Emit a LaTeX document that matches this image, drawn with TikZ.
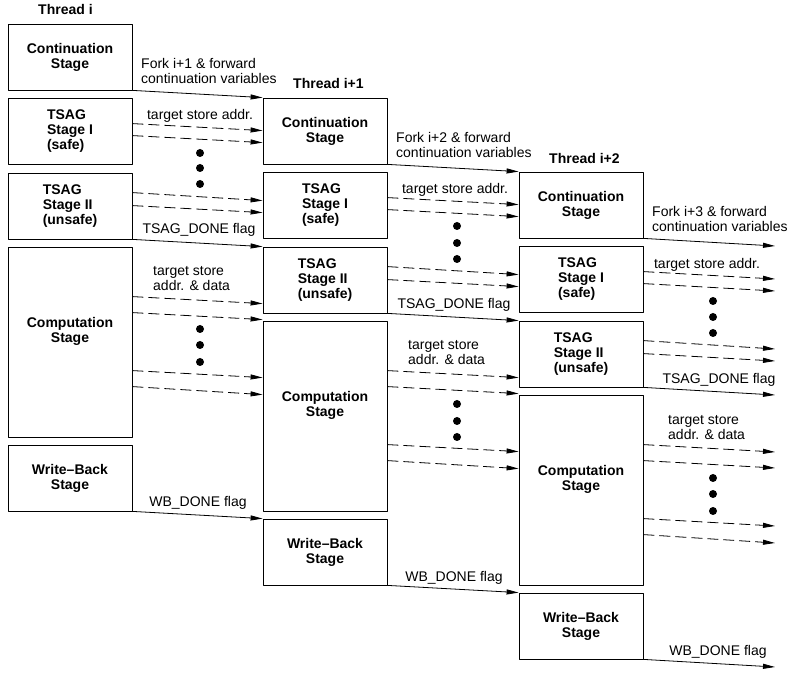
\documentclass[tikz,border=0pt]{standalone}
\usepackage{fontspec}
\setmainfont{Liberation Sans}
\usetikzlibrary{arrows.meta}

\tikzset{
  stage/.style={draw,line width=0.8bp,minimum width=124bp,minimum height=66bp,inner sep=0pt,
    align=center,font=\bfseries\fontsize{14bp}{15bp}\selectfont},
  boxtext/.style={inner sep=0pt,align=center,font=\bfseries\fontsize{14bp}{15bp}\selectfont},
  thread/.style={anchor=west,inner sep=0pt,font=\bfseries\fontsize{14bp}{15bp}\selectfont},
  msg/.style={inner sep=0pt,align=left,font=\fontsize{14bp}{15bp}\selectfont},
  flag/.style={black,->,line width=0.8bp},
  addr/.style={black,->,line width=0.8bp,dash pattern=on 11bp off 5bp},
  dot/.style={circle,fill=black,inner sep=0pt,minimum size=8bp},
}

\begin{document}
\begin{tikzpicture}[>={Triangle[length=12bp,width=5bp]},line join=bevel,]
\useasboundingbox (0bp,0bp) rectangle (791bp,673bp);
%% thread i
\node (thr_0) at (38bp,663bp) [thread] {Thread i};
\node (cont_0) at (70bp,616bp) [stage] {Continuation\\Stage};
\node (tsag1_0) at (70bp,542bp) [stage,align=left] {TSAG\\Stage I\\(safe)};
\node (tsag2_0) at (70bp,467bp) [stage,align=left] {TSAG\\Stage II\\(unsafe)};
\node (comp_0) at (70bp,331bp) [stage,minimum height=190bp,label={[boxtext,name=comp_0_t,yshift=11bp]center:{Computation\\Stage}}] {};
\node (wb_0) at (70bp,195bp) [stage] {Write--Back\\Stage};
%% thread i+1
\node (thr_1) at (293bp,589bp) [thread] {Thread i+1};
\node (cont_1) at (325bp,542bp) [stage] {Continuation\\Stage};
\node (tsag1_1) at (325bp,468bp) [stage,align=left] {TSAG\\Stage I\\(safe)};
\node (tsag2_1) at (325bp,393bp) [stage,align=left] {TSAG\\Stage II\\(unsafe)};
\node (comp_1) at (325bp,257bp) [stage,minimum height=190bp,label={[boxtext,name=comp_1_t,yshift=11bp]center:{Computation\\Stage}}] {};
\node (wb_1) at (325bp,121bp) [stage] {Write--Back\\Stage};
%% thread i+2
\node (thr_2) at (549bp,514bp) [thread] {Thread i+2};
\node (cont_2) at (581bp,468bp) [stage] {Continuation\\Stage};
\node (tsag1_2) at (581bp,394bp) [stage,align=left] {TSAG\\Stage I\\(safe)};
\node (tsag2_2) at (581bp,319bp) [stage,align=left] {TSAG\\Stage II\\(unsafe)};
\node (comp_2) at (581bp,183bp) [stage,minimum height=190bp,label={[boxtext,name=comp_2_t,yshift=11bp]center:{Computation\\Stage}}] {};
\node (wb_2) at (581bp,47bp) [stage] {Write--Back\\Stage};
%% where thread i+3 would start
\coordinate (cont_3) at (775bp,427bp);
\coordinate (tsag1_3) at (775bp,353bp);
\coordinate (tsag2_3) at (775bp,278bp);
\coordinate (comp_3) at (775bp,204bp);
\coordinate (wb_3) at (775bp,6bp);
%% labels on the arrows
\node (fork_0) at (141bp,602bp) [msg,anchor=west] {Fork i+1 \& forward\\continuation variables};
\node (fork_1) at (396bp,528bp) [msg,anchor=west] {Fork i+2 \& forward\\continuation variables};
\node (fork_2) at (652bp,454bp) [msg,anchor=west] {Fork i+3 \& forward\\continuation variables};
\node (tsa_0) at (200bp,557bp) [msg] {target store addr.};
\node (tsa_1) at (455bp,483bp) [msg] {target store addr.};
\node (tsa_2) at (707bp,408bp) [msg] {target store addr.};
\node (tdone_0) at (199bp,443bp) [msg] {TSAG\_DONE flag};
\node (tdone_1) at (454bp,368bp) [msg] {TSAG\_DONE flag};
\node (tdone_2) at (719bp,293bp) [msg] {TSAG\_DONE flag};
\node (tsd_0) at (153bp,394bp) [msg,anchor=west] {target store\\addr. \& data};
\node (tsd_1) at (408bp,320bp) [msg,anchor=west] {target store\\addr. \& data};
\node (tsd_2) at (668bp,245bp) [msg,anchor=west] {target store\\addr. \& data};
\node (wdone_0) at (198bp,170bp) [msg] {WB\_DONE flag};
\node (wdone_1) at (454bp,95bp) [msg] {WB\_DONE flag};
\node (wdone_2) at (718bp,21bp) [msg] {WB\_DONE flag};
%% dots
\node (dt_0a) at (200bp,520bp) [dot] {};
\node (dt_0b) at (200bp,505bp) [dot] {};
\node (dt_0c) at (200bp,489bp) [dot] {};
\node (dc_0a) at (200bp,344bp) [dot] {};
\node (dc_0b) at (200bp,328bp) [dot] {};
\node (dc_0c) at (200bp,311bp) [dot] {};
\node (dt_1a) at (457bp,447bp) [dot] {};
\node (dt_1b) at (457bp,430bp) [dot] {};
\node (dt_1c) at (457bp,414bp) [dot] {};
\node (dc_1a) at (457bp,269bp) [dot] {};
\node (dc_1b) at (457bp,252bp) [dot] {};
\node (dc_1c) at (457bp,236bp) [dot] {};
\node (dt_2a) at (713bp,372bp) [dot] {};
\node (dt_2b) at (713bp,356bp) [dot] {};
\node (dt_2c) at (713bp,340bp) [dot] {};
\node (dc_2a) at (713bp,195bp) [dot] {};
\node (dc_2b) at (713bp,179bp) [dot] {};
\node (dc_2c) at (713bp,162bp) [dot] {};
%% flags
\draw [flag] (cont_0.south east) -- (cont_1.north west);
\draw [flag] (tsag2_0.south east) -- (tsag2_1.north west);
\draw [flag] (wb_0.south east) -- (wb_1.north west);
\draw [flag] (cont_1.south east) -- (cont_2.north west);
\draw [flag] (tsag2_1.south east) -- (tsag2_2.north west);
\draw [flag] (wb_1.south east) -- (wb_2.north west);
\draw [flag] (cont_2.south east) -- (cont_3);
\draw [flag] (tsag2_2.south east) -- (tsag2_3);
\draw [flag] (wb_2.south east) -- (wb_3);
%% addresses and data
\draw [addr] ([yshift=-26bp]tsag1_0.north east) -- ([yshift=-33bp]cont_1.north west);
\draw [addr] ([yshift=-38bp]tsag1_0.north east) -- ([yshift=-45bp]cont_1.north west);
\draw [addr] ([yshift=-20bp]tsag2_0.north east) -- ([yshift=-29bp]tsag1_1.north west);
\draw [addr] ([yshift=-33bp]tsag2_0.north east) -- ([yshift=-41bp]tsag1_1.north west);
\draw [addr] ([yshift=-50bp]comp_0.north east) -- ([yshift=17bp]comp_1.north west);
\draw [addr] ([yshift=-66bp]comp_0.north east) -- ([yshift=1bp]comp_1.north west);
\draw [addr] ([yshift=-124bp]comp_0.north east) -- ([yshift=-57bp]comp_1.north west);
\draw [addr] ([yshift=-140bp]comp_0.north east) -- ([yshift=-74bp]comp_1.north west);
%
\draw [addr] ([yshift=-26bp]tsag1_1.north east) -- ([yshift=-33bp]cont_2.north west);
\draw [addr] ([yshift=-38bp]tsag1_1.north east) -- ([yshift=-45bp]cont_2.north west);
\draw [addr] ([yshift=-20bp]tsag2_1.north east) -- ([yshift=-29bp]tsag1_2.north west);
\draw [addr] ([yshift=-33bp]tsag2_1.north east) -- ([yshift=-41bp]tsag1_2.north west);
\draw [addr] ([yshift=-50bp]comp_1.north east) -- ([yshift=17bp]comp_2.north west);
\draw [addr] ([yshift=-66bp]comp_1.north east) -- ([yshift=1bp]comp_2.north west);
\draw [addr] ([yshift=-124bp]comp_1.north east) -- ([yshift=-57bp]comp_2.north west);
\draw [addr] ([yshift=-140bp]comp_1.north east) -- ([yshift=-74bp]comp_2.north west);
%
\draw [addr] ([yshift=-26bp]tsag1_2.north east) -- ([yshift=-33bp]cont_3);
\draw [addr] ([yshift=-38bp]tsag1_2.north east) -- ([yshift=-45bp]cont_3);
\draw [addr] ([yshift=-20bp]tsag2_2.north east) -- ([yshift=-29bp]tsag1_3);
\draw [addr] ([yshift=-33bp]tsag2_2.north east) -- ([yshift=-41bp]tsag1_3);
\draw [addr] ([yshift=-50bp]comp_2.north east) -- ([yshift=17bp]comp_3);
\draw [addr] ([yshift=-66bp]comp_2.north east) -- ([yshift=1bp]comp_3);
\draw [addr] ([yshift=-124bp]comp_2.north east) -- ([yshift=-57bp]comp_3);
\draw [addr] ([yshift=-140bp]comp_2.north east) -- ([yshift=-74bp]comp_3);
%
\end{tikzpicture}
\end{document}
